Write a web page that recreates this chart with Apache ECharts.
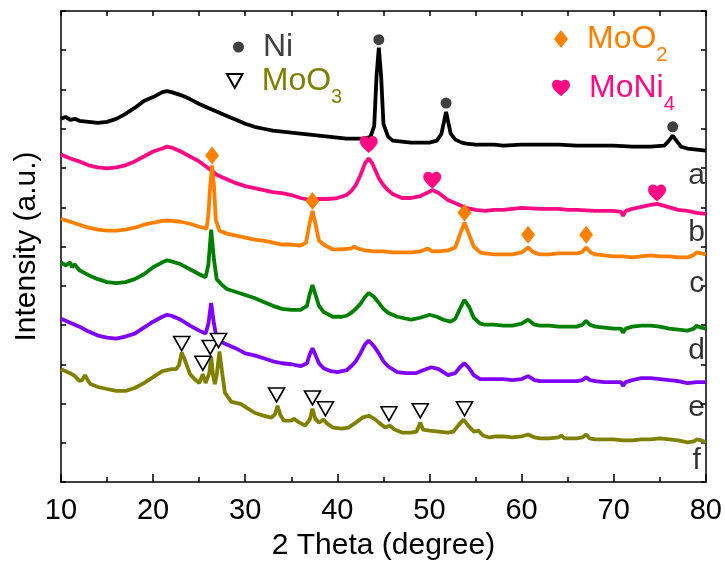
<!DOCTYPE html>
<html>
<head>
<meta charset="utf-8">
<script src="https://cdn.jsdelivr.net/npm/echarts@6/dist/echarts.min.js"></script>
<style>
  html, body { margin: 0; padding: 0; background: #fff; }
  #chart { width: 725px; height: 566px; }
</style>
</head>
<body>
<div id="chart"></div>
<script>
// XRD patterns, [2theta, stacked intensity]
const traceA = [[10,367],[10.5,369],[11,366],[11.5,367],[12,365],[13,364],[14,363],[15,364],[16,367],[17,372],[18,378],[19,385],[20,389],[21,394],[21.5,395],[22,394],[23,391],[24,387],[25,382],[26,378],[27,374],[28,370],[29,366],[30,362],[31,359],[32,357],[33,355],[34,354],[35,353],[36,352],[37,351],[38,350],[39,349],[40,348],[41,347],[42,347],[43,347],[43.6,349],[44.0,360],[44.25,410],[44.5,439],[44.75,410],[45.0,362],[45.5,349],[46,345],[47,344],[48,343],[49,343],[50,343],[50.8,345],[51.3,352],[51.8,374],[52.3,352],[52.8,346],[53.5,343],[54,342],[55,341],[56,341],[57,341],[58,340],[60,341],[62,341],[64,341],[66,340],[68,340],[70,340],[72,339],[74,339],[75.5,340],[76,345],[76.4,350],[76.8,345],[77.3,339],[78,337],[79,336],[80,335]];
const traceB = [[10,331],[11,327],[12,324],[13,320],[14,318],[15,317],[16,318],[17,320],[18,324],[19,329],[20,334],[21,337],[21.5,339],[22,338],[23,334],[24,329],[25,324],[26,317],[27,310],[28,306],[29,302],[30,299],[31,297],[32,295],[33,293],[34,292],[35,290],[36,287],[37,285],[38,286],[39,286],[40,287],[41,290],[41.5,294],[42,300],[42.5,310],[43,322],[43.4,327],[43.8,322],[44.5,307],[45,300],[45.5,295],[46,291],[47,287],[48,287],[49,289],[49.7,292],[50.3,295],[51,292],[52,285],[53,281],[54,277],[55,275],[56,274],[57,275],[58,275],[60,277],[62,276],[64,276],[65,275],[66,275],[68,274],[70,274],[70.8,273],[71,269],[71.3,274],[72,276],[73,278],[74,280],[74.7,281],[75.5,279],[77,275],[78,274],[79,272],[80,271]];
const traceC = [[10,266],[11,263],[12,260],[13,257],[14,255],[15,254],[16,254],[17,255],[18,257],[19,260],[20,262],[21,264],[22,264],[23,263],[24,261],[25,258],[25.8,256],[26.0,270],[26.2,300],[26.4,320],[26.6,300],[26.8,265],[27.2,254],[28,251],[29,249],[30,247],[31,245],[32,244],[33,242],[34,240],[35,240],[36,239],[36.6,242],[37.0,262],[37.3,274],[37.6,262],[38.0,244],[38.5,240],[39.5,235],[40.5,235],[41.5,236],[41.8,238],[42.2,236],[43,234],[44,233],[45,233],[46,232],[47,232],[48,232],[49,233],[49.8,236],[50.3,233],[51,233],[52,234],[52.8,237],[53.3,250],[53.8,262],[54.3,250],[54.8,238],[55.5,232],[56,231],[57,230],[58,230],[59,230],[60,232],[60.7,237],[61.3,232],[62,230],[63,230],[64,231],[65,231],[66,231],[66.5,232],[67,237],[67.5,232],[68,230],[69,229],[70,228],[71,228],[72,227],[73,228],[74,229],[75,228],[76,228],[77,227],[78,227],[78.6,229],[79,232],[79.5,231],[80,230]];
const traceD = [[10,222],[10.5,219],[11,222],[11.2,217],[11.5,220],[12,214],[13,209],[14,205],[15,202],[16,201],[17,202],[18,205],[19,210],[20,217],[21,222],[21.5,224],[22,223],[23,220],[24,215],[25,210],[25.7,207],[26.0,220],[26.3,255],[26.6,225],[26.9,205],[27.5,199],[28,195],[29,192],[30,189],[31,186],[32,182],[33,178],[34,175],[35,174],[36,174],[36.7,178],[37.0,190],[37.3,199],[37.6,190],[38.0,178],[38.5,172],[39.5,167],[40.5,167],[41,168],[41.5,171],[42,175],[42.5,180],[43,187],[43.4,191],[44,187],[44.5,181],[45,175],[45.5,171],[46.5,167],[47.5,165],[48,164],[49,166],[50,169],[50.8,167],[51.5,164],[52.3,162],[52.8,165],[53.3,175],[53.8,184],[54.3,177],[54.8,166],[55.5,160],[56,159],[57,159],[58,158],[59,158],[60,160],[60.7,164],[61.4,159],[62,158],[63,158],[64,157],[65,157],[66,157],[66.6,159],[67,163],[67.4,159],[68,157],[69,156],[70,155],[70.8,155],[71,151],[71.3,155],[72,157],[73,158],[74,158],[75,157],[76,155],[77,154],[78,153],[78.7,155],[79,158],[79.5,156],[80,155]];
const traceE = [[10,165],[11,161],[12,157],[13,152],[14,148],[15,146],[16,145],[17,147],[18,150],[19,156],[20,162],[21,167],[21.5,169],[22,168],[23,164],[24,158],[25,153],[25.7,150],[26.0,160],[26.3,181],[26.6,160],[26.9,145],[27.5,141],[28,139],[29,135],[30,130],[31,128],[32,125],[33,122],[34,120],[35,119],[36,117],[36.7,120],[37.0,129],[37.3,135],[37.6,129],[38.0,120],[38.5,115],[39.3,112],[40,111],[41,113],[41.5,117],[42,122],[42.5,130],[43,139],[43.4,143],[44,137],[44.5,130],[45,122],[45.5,117],[46.5,111],[47.5,110],[48.5,110],[49.3,113],[50.2,116],[51,114],[52,108],[52.8,110],[53.3,116],[53.8,120],[54.3,115],[54.8,108],[55.5,104],[57,104],[58,104],[59,103],[60,104],[60.7,107],[61.4,103],[62,102],[63,102],[64,102],[65,102],[66,102],[66.6,103],[67,106],[67.4,103],[68,102],[69,101],[70,101],[70.8,101],[71,97],[71.3,101],[72,103],[73,105],[74,105],[75,104],[76,103],[77,102],[78,100],[79,101],[80,101]];
const traceF = [[10,114],[10.5,112],[11,110],[11.5,107],[12,102],[12.3,103],[12.6,108],[12.9,103],[13.2,99],[14,96],[15,94],[16,92],[17,92],[18,95],[19,100],[20,106],[21,112],[22,114],[22.5,114],[22.8,118],[23.1,131],[23.5,122],[24,109],[24.5,104],[25,100],[25.4,109],[25.7,100],[25.9,98],[26.1,110],[26.3,127],[26.5,108],[26.7,99],[26.9,108],[27.2,132],[27.5,110],[27.8,90],[28.5,81],[29,80],[29.5,79],[30,76],[31,70],[32,67],[32.8,65],[33.2,68],[33.5,77],[33.8,68],[34.2,62],[35,62],[35.3,64],[35.7,61],[36.5,57],[37.0,63],[37.3,74],[37.6,64],[38.0,60],[38.5,63],[38.9,59],[39.5,55],[40.5,54],[41.2,55],[42,60],[42.7,65],[43.4,67],[44,64],[44.5,60],[45.2,55],[45.7,57],[46.2,53],[47,50],[48,50],[48.6,51],[49,60],[49.3,53],[50,52],[51,51],[52,50],[52.6,51],[53.2,58],[53.7,63],[54.2,57],[54.8,51],[55.3,52],[55.8,47],[56.5,45],[57.2,46],[58,46],[59,45],[60,46],[60.7,48],[61.4,45],[62,44],[63,44],[64,45],[64.3,47],[64.7,44],[66,44],[66.6,45],[67,48],[67.4,44],[68,43],[69,43],[70,43],[71,42],[72,42],[73,43],[74,43],[75,44],[76,43],[77,42],[78,40],[78.7,41],[79,43],[79.5,42],[80,40]];

// phase markers above the peaks
const niPeaks = [[44.5,447],[51.8,383],[76.4,359]];
const moo2Peaks = [[26.4,330],[37.3,284],[53.8,272],[60.7,250],[67,250]];
const moni4Peaks = [[43.4,341],[50.3,305],[74.7,292]];
const moo3Peaks = [[23.1,140],[25.4,120],[26.2,136],[27.1,143],[33.4,88],[37.3,85],[38.7,74],[45.6,69],[49,72],[53.8,74]];

// sample letters at the right edge
const sampleLetters = ['a', 'b', 'c', 'd', 'e', 'f'];
const letterY = [310, 252, 200, 133, 75, 21];
const letterX = 79.0;

const traces = [traceA, traceB, traceC, traceD, traceE, traceF];
const traceColors = ['#000000', '#ff0a84', '#ff8000', '#008000', '#8000ff', '#808000'];

const FONT = '"Liberation Sans", Arial, sans-serif';
const HEART = 'path://M12,21.35l-1.45-1.32C5.4,15.36,2,12.28,2,8.5C2,5.42,4.42,3,7.5,3c1.74,0,3.41,0.81,4.5,2.09C13.09,3.81,14.76,3,16.5,3C19.58,3,22,5.42,22,8.5c0,3.78-3.4,6.86-8.55,11.54L12,21.35z';
const DOWN_TRI = 'path://M0,0L10,0L5,9Z';

const chart = echarts.init(document.getElementById('chart'));

const frameLine = { show: true, onZero: false, lineStyle: { color: '#000', width: 1.5 } };

const lineSeries = traces.map((t, i) => ({
  type: 'line',
  data: t,
  symbol: 'none',
  smooth: false,
  lineStyle: { color: traceColors[i], width: 3.8 },
  z: 2
}));

const subRich = (color) => ({
  m: { fontFamily: FONT, fontSize: 32, color: color },
  s: { fontFamily: FONT, fontSize: 20, color: color, padding: [32, 0, 0, 0] }
});

const legendBase = (name, left, top, w, h, color, fmt) => ({
  data: [name],
  left: left,
  top: top,
  orient: 'vertical',
  itemWidth: w,
  itemHeight: h,
  selectedMode: false,
  formatter: fmt,
  textStyle: { fontFamily: FONT, fontSize: 32, color: color, padding: [0, 0, 0, 14], rich: subRich(color) }
});

chart.setOption({
  animation: false,
  grid: { left: 61, right: 17, top: 11, bottom: 79 },
  legend: [
    legendBase('Ni', 228, 26, 11, 11, '#404040', '{m|Ni}'),
    legendBase('MoO3', 221, 60, 16, 14, '#808000', '{m|MoO}{s|3}'),
    legendBase('MoO2', 549, 18, 14, 18, '#ff8000', '{m|MoO}{s|2}'),
    legendBase('MoNi4', 547, 67, 18, 17, '#ff0a84', '{m|MoNi}{s|4}')
  ],
  xAxis: [
    {
      type: 'value', min: 10, max: 80, interval: 10,
      name: '2 Theta (degree)', nameLocation: 'middle', nameGap: 49,
      nameTextStyle: { fontFamily: FONT, fontSize: 30, color: '#000' },
      axisLine: frameLine,
      axisTick: { show: true, inside: true, length: 8, lineStyle: { color: '#000', width: 1.5 } },
      minorTick: { show: true, splitNumber: 2, length: 5, lineStyle: { color: '#000', width: 1.5 } },
      axisLabel: { fontFamily: FONT, fontSize: 29, color: '#000', margin: 14 },
      splitLine: { show: false }
    },
    {
      type: 'value', position: 'top', min: 10, max: 80, interval: 5,
      axisLine: frameLine,
      axisTick: { show: true, inside: true, length: 5, lineStyle: { color: '#000', width: 1.5 } },
      axisLabel: { show: false },
      splitLine: { show: false }
    }
  ],
  yAxis: [
    {
      type: 'value', min: 0, max: 476, interval: 476 / 12,
      name: 'Intensity (a.u.)', nameLocation: 'middle', nameGap: 19,
      nameTextStyle: { fontFamily: FONT, fontSize: 30, color: '#000' },
      axisLine: frameLine,
      axisTick: { show: true, inside: true, length: 5, lineStyle: { color: '#000', width: 1.5 } },
      axisLabel: { show: false },
      splitLine: { show: false }
    },
    {
      type: 'value', position: 'right', min: 0, max: 476, interval: 476 / 12,
      axisLine: frameLine,
      axisTick: { show: true, inside: true, length: 5, lineStyle: { color: '#000', width: 1.5 } },
      axisLabel: { show: false },
      splitLine: { show: false }
    }
  ],
  series: lineSeries.concat([
    {
      name: 'Ni', type: 'scatter', data: niPeaks, symbol: 'circle', symbolSize: 11,
      itemStyle: { color: '#404040', opacity: 1 }, z: 5
    },
    {
      name: 'MoO2', type: 'scatter', data: moo2Peaks, symbol: 'diamond', symbolSize: [14, 18],
      itemStyle: { color: '#ff8000', opacity: 1 }, z: 5
    },
    {
      name: 'MoNi4', type: 'scatter', data: moni4Peaks, symbol: HEART, symbolSize: [18, 17],
      itemStyle: { color: '#ff0a84', opacity: 1 }, z: 5
    },
    {
      name: 'MoO3', type: 'scatter', data: moo3Peaks, symbol: DOWN_TRI, symbolSize: [16, 14],
      itemStyle: { color: '#ffffff', borderColor: '#000', borderWidth: 1.6, opacity: 1 }, z: 5
    },
    {
      type: 'scatter', silent: true, symbolSize: 0, z: 6,
      data: sampleLetters.map((s, i) => ({ name: s, value: [letterX, letterY[i]] })),
      label: {
        show: true, position: 'inside', formatter: '{b}',
        fontFamily: FONT, fontSize: 30, color: '#000'
      }
    }
  ])
});
</script>
</body>
</html>
